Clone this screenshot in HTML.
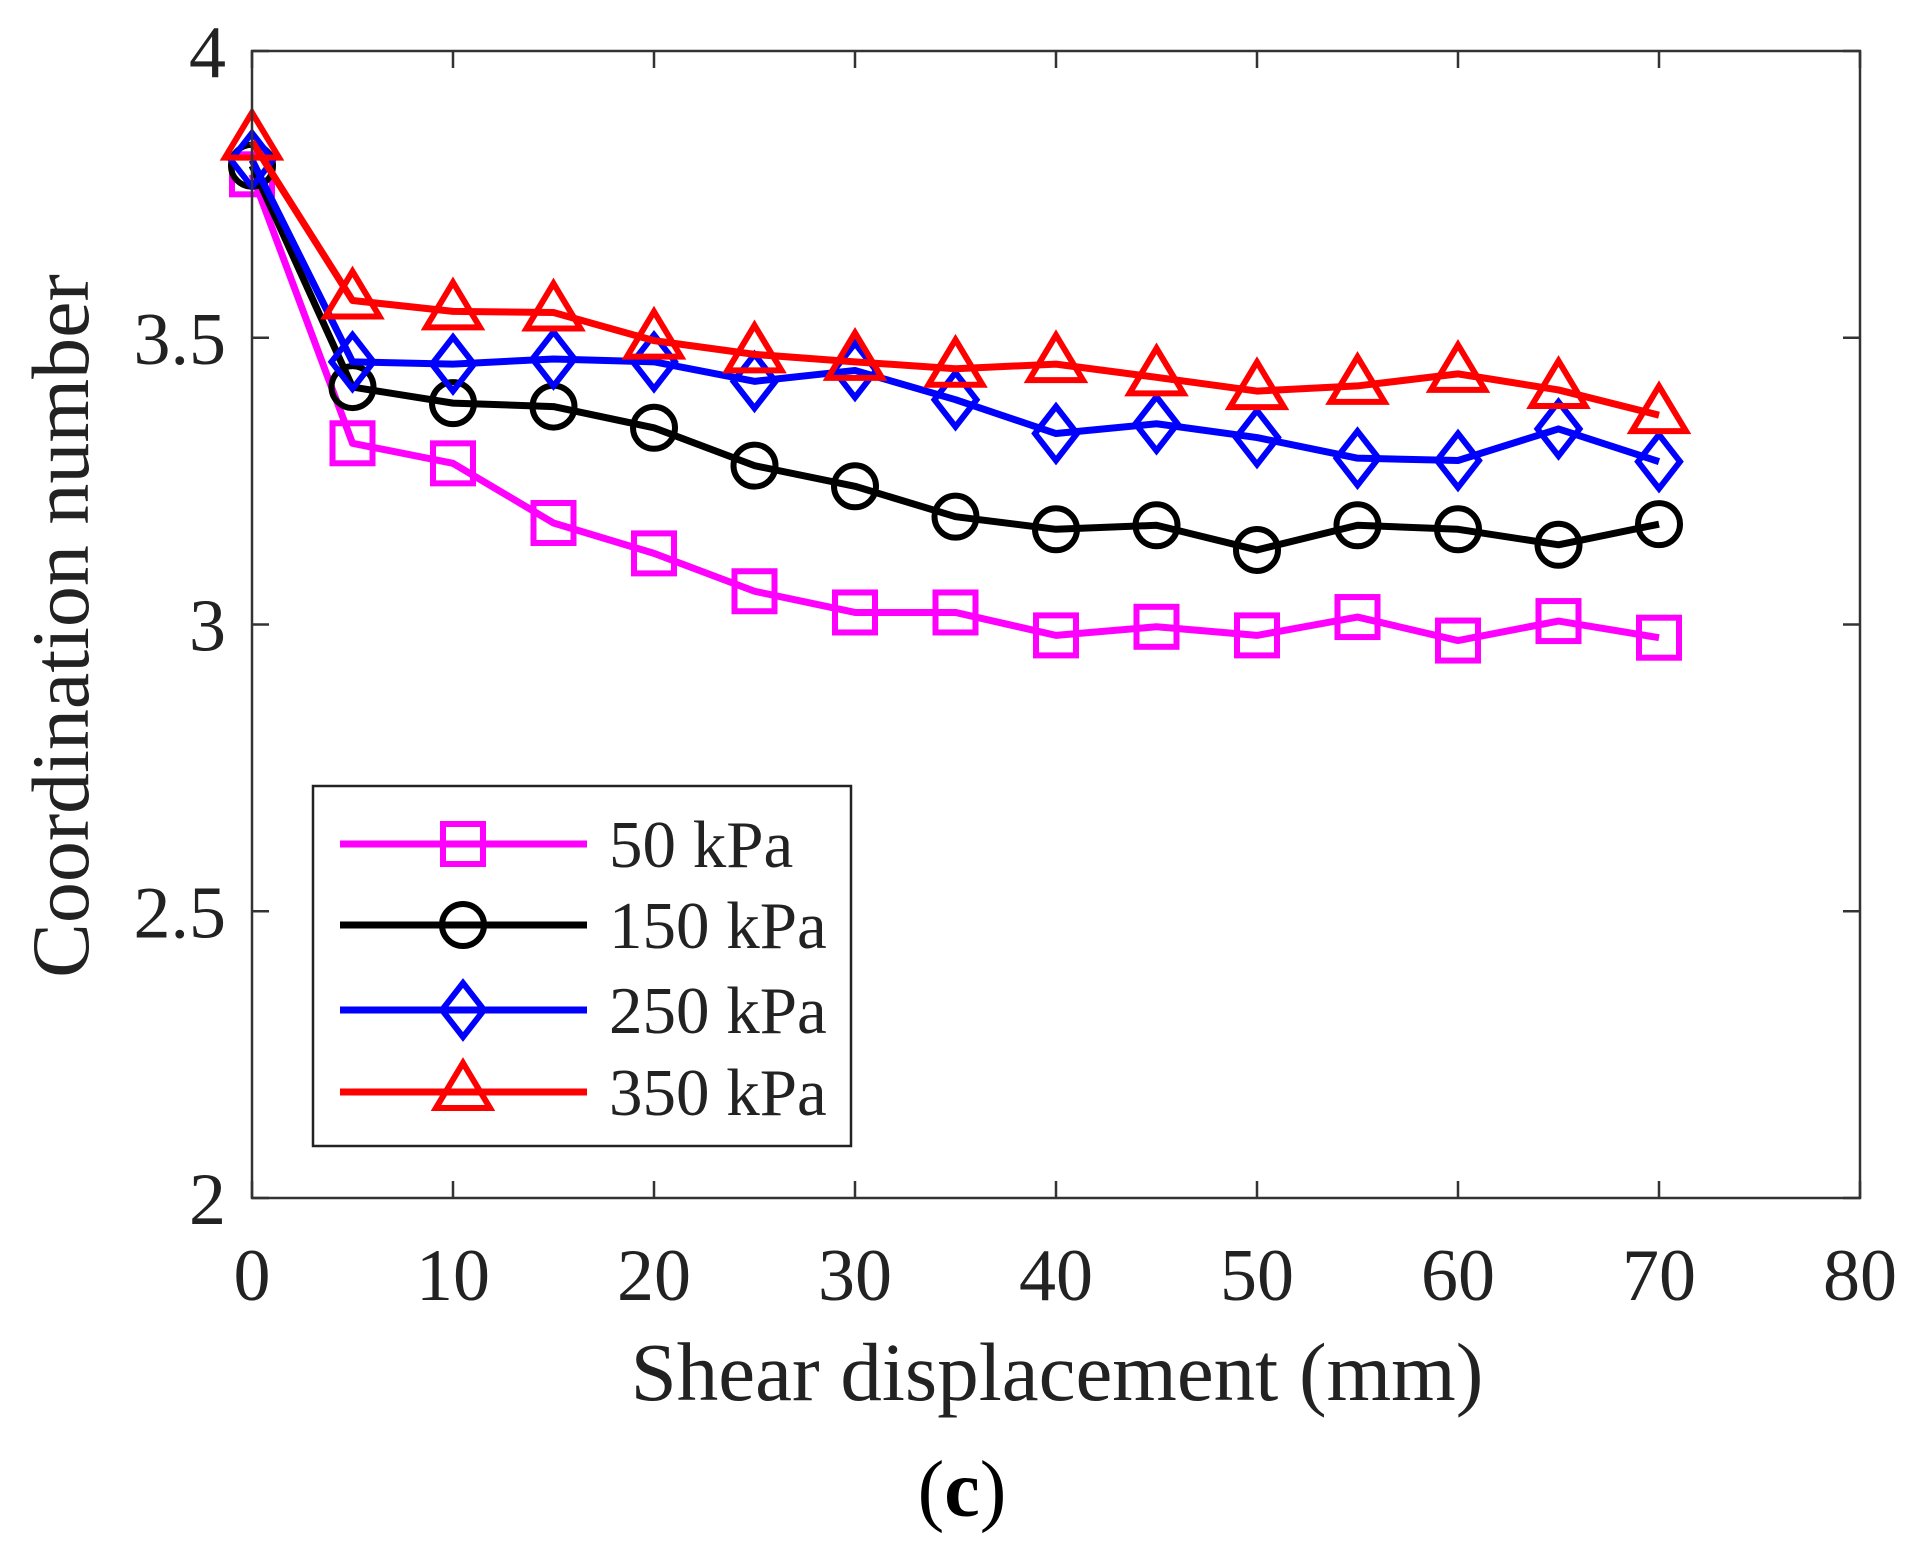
<!DOCTYPE html>
<html><head><meta charset="utf-8"><style>
html,body{margin:0;padding:0;background:#fff;}
svg{display:block;font-family:"Liberation Serif",serif;}
</style></head><body>
<svg id="chart" width="1917" height="1559" viewBox="0 0 1917 1559">
<g id="series"></g>
<rect x="252" y="51" width="1608" height="1147" fill="none" stroke="#333" stroke-width="2.5"/>
<g id="ticks"></g>
<text x="1057" y="1400" font-size="83" text-anchor="middle" fill="#222">Shear displacement (mm)</text>
<text transform="translate(88,626) rotate(-90)" font-size="82" text-anchor="middle" fill="#222">Coordination number</text>
<text x="962" y="1516" font-size="80" text-anchor="middle" fill="#000">(<tspan font-weight="bold">c</tspan>)</text>
<g id="legend">
<rect x="313" y="786" width="538" height="360" fill="#fff" stroke="#222" stroke-width="2.5"/>
</g>
</svg>
<script>
const xs=[0,5,10,15,20,25,30,35,40,45,50,55,60,65,70];
const s50=[3.785,3.316,3.281,3.177,3.124,3.058,3.021,3.021,2.981,2.996,2.981,3.013,2.972,3.006,2.977];
const s150=[3.80,3.414,3.386,3.380,3.343,3.277,3.241,3.188,3.166,3.173,3.130,3.173,3.166,3.139,3.175];
const s250=[3.81,3.458,3.454,3.463,3.458,3.424,3.443,3.392,3.333,3.350,3.326,3.290,3.286,3.341,3.284];
const s350=[3.842,3.565,3.546,3.544,3.495,3.471,3.458,3.446,3.454,3.431,3.407,3.416,3.437,3.409,3.365];
const xTicks=[0,10,20,30,40,50,60,70,80];
const yTicks=[2,2.5,3,3.5,4];
const yTickLabels=["2","2.5","3","3.5","4"];
const labels=["50 kPa","150 kPa","250 kPa","350 kPa"];
const NS="http://www.w3.org/2000/svg";
const X=v=>252+(v/80)*1608;
const Y=v=>1198-(v-2)/2*1147;
function mk(tag,at,parent){const e=document.createElementNS(NS,tag);for(const k in at)e.setAttribute(k,at[k]);parent.appendChild(e);return e;}
const tg=document.getElementById('ticks');
xTicks.forEach(t=>{
 let l=mk('line',{x1:X(t),x2:X(t),y1:1198,y2:1181,stroke:'#333','stroke-width':2.5},tg);
 
 
 let l2=mk('line',{x1:X(t),x2:X(t),y1:51,y2:68,stroke:'#333','stroke-width':2.5},tg);
 
 
 let tx=mk('text',{x:X(t),y:1300,'font-size':74,'text-anchor':'middle',fill:'#222'},tg);tx.textContent=t;
 
 
});
yTicks.forEach((t,i)=>{
 let l=mk('line',{x1:252,x2:269,y1:Y(t),y2:Y(t),stroke:'#333','stroke-width':2.5},tg);
 
 
 let l2=mk('line',{x1:1860,x2:1843,y1:Y(t),y2:Y(t),stroke:'#333','stroke-width':2.5},tg);
 
 
 let tx=mk('text',{x:226,y:Y(t)+26,'font-size':74,'text-anchor':'end',fill:'#222'},tg);tx.textContent=yTickLabels[i];
 
 
});
function marker(type,x,y,c,p){
 const a={fill:'none',stroke:c,'stroke-width':6};
 if(type==='sq'){Object.assign(a,{x:x-20,y:y-20,width:40,height:40});return mk('rect',a,p);}
 if(type==='ci'){Object.assign(a,{cx:x,cy:y,r:21});return mk('circle',a,p);}
 if(type==='di'){a.points=`${x},${y-27} ${x+21},${y} ${x},${y+27} ${x-21},${y}`;return mk('polygon',a,p);}
 a.points=`${x},${y-29} ${x+27},${y+16} ${x-27},${y+16}`;return mk('polygon',a,p);
}
const series=[[s50,'#ff00ff','sq'],[s150,'#000','ci'],[s250,'#0000ff','di'],[s350,'#ff0000','tr']];
const sg=document.getElementById('series');
series.forEach(([d,c,m],si)=>{
 const g=mk('g',{},sg);
 
 
 const pl=mk('polyline',{points:d.map((v,i)=>X(xs[i])+','+Y(v)).join(' '),fill:'none',stroke:c,'stroke-width':7,'stroke-linejoin':'round'},g);
 
 
 d.forEach((v,i)=>{const e=marker(m,X(xs[i]),Y(v),c,g);
  
  });
});
const lg=document.getElementById('legend');
const ly=[844,925,1010,1092];
series.forEach(([d,c,m],i)=>{
 const g=mk('g',{},lg);
 
 
 mk('line',{x1:340,x2:587,y1:ly[i],y2:ly[i],stroke:c,'stroke-width':7},g);
 marker(m,463,ly[i],c,g);
 const t=mk('text',{x:609,y:ly[i]+23,'font-size':67,fill:'#222'},g);t.textContent=labels[i];
});
</script>
</body></html>
